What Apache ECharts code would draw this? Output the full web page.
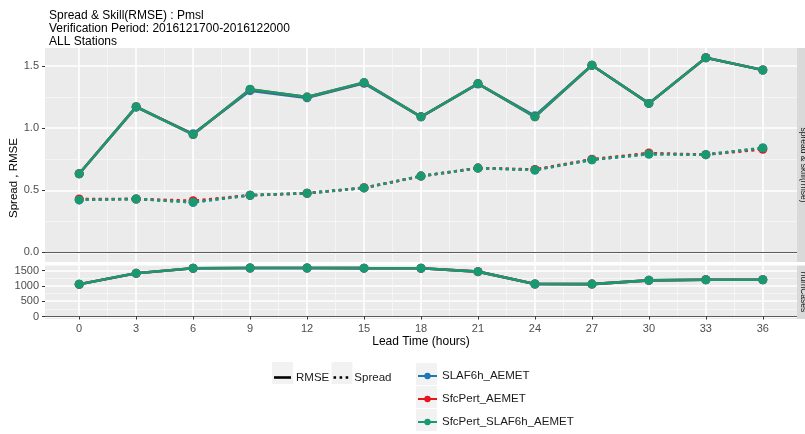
<!DOCTYPE html>
<html>
<head>
<meta charset="utf-8">
<script src="https://cdn.jsdelivr.net/npm/echarts@6/dist/echarts.min.js"></script>
<style>
html,body{margin:0;padding:0;background:#fff;}
#chart{width:805px;height:434px;}
</style>
</head>
<body>
<div id="chart"></div>
<script>
// ---- data ----
const leadTimes = [0, 3, 6, 9, 12, 15, 18, 21, 24, 27, 30, 33, 36];
const models = ['SLAF6h_AEMET', 'SfcPert_AEMET', 'SfcPert_SLAF6h_AEMET'];
const modelColors = ['#1f78b4', '#e8141c', '#179a72'];

const rmseSLAF6h       = [0.633, 1.170, 0.955, 1.303, 1.245, 1.362, 1.092, 1.357, 1.100, 1.508, 1.200, 1.568, 1.470];
const rmseSfcPert      = [0.633, 1.173, 0.950, 1.312, 1.251, 1.367, 1.092, 1.360, 1.092, 1.508, 1.200, 1.568, 1.470];
const rmseSfcPertSLAF  = [0.633, 1.173, 0.949, 1.314, 1.251, 1.368, 1.092, 1.360, 1.092, 1.508, 1.200, 1.568, 1.470];

const spreadSLAF6h      = [0.422, 0.430, 0.403, 0.460, 0.476, 0.519, 0.614, 0.679, 0.663, 0.746, 0.792, 0.787, 0.841];
const spreadSfcPert     = [0.430, 0.430, 0.415, 0.460, 0.476, 0.520, 0.614, 0.679, 0.668, 0.750, 0.800, 0.787, 0.830];
const spreadSfcPertSLAF = [0.422, 0.430, 0.403, 0.460, 0.476, 0.519, 0.614, 0.679, 0.663, 0.746, 0.792, 0.787, 0.841];

const numCases = [1055, 1410, 1575, 1585, 1585, 1578, 1575, 1465, 1060, 1058, 1180, 1200, 1200];

const yTicksTop = [0, 0.5, 1.0, 1.5];
const yTicksBottom = [0, 500, 1000, 1500];
const titleLines = ['Spread & Skill(RMSE) : Pmsl', 'Verification Period: 2016121700-2016122000', 'ALL Stations'];
const yTitle = 'Spread , RMSE';
const xTitle = 'Lead Time (hours)';
const stripLabels = ['spread & skill(rmse)', 'numCases'];

// ---- build ----
const rmseByModel = [rmseSLAF6h, rmseSfcPert, rmseSfcPertSLAF];
const spreadByModel = [spreadSLAF6h, spreadSfcPert, spreadSfcPertSLAF];
const pairs = (ys) => leadTimes.map((x, i) => [x, ys[i]]);
const minorOf = (t) => t.slice(0, -1).map((v, i) => (v + t[i + 1]) / 2);
const xMinor = minorOf(leadTimes);
const yMinorTop = minorOf(yTicksTop);
const yMinorBottom = minorOf(yTicksBottom);

const FONT = 'Liberation Sans';
const X_MIN = -1.8, X_MAX = 37.8;
const TOP_MIN = -0.0784, TOP_MAX = 1.647;
const BOT_MIN = -80, BOT_MAX = 1665;

const majorLine = { show: true, lineStyle: { color: '#ffffff', width: 1.6 } };
const minorLine = { show: true, lineStyle: { color: '#f7f7f7', width: 0.8 } };

function xAxisMajor(grid, withLabels) {
  return {
    type: 'value', gridIndex: grid, min: X_MIN, max: X_MAX, position: 'bottom',
    axisLine: { show: true, onZero: true, lineStyle: { color: '#5a5a5a', width: 1 } },
    axisTick: { show: withLabels, customValues: leadTimes, length: 3, lineStyle: { color: '#333' } },
    axisLabel: { show: withLabels, customValues: leadTimes, color: '#4d4d4d', fontSize: 11, fontFamily: FONT, margin: 4 },
    splitLine: majorLine,
    name: withLabels ? xTitle : '',
    nameLocation: 'middle', nameGap: 17,
    nameTextStyle: { color: '#000', fontSize: 12, fontFamily: FONT }
  };
}
function xAxisMinor(grid) {
  return {
    type: 'value', gridIndex: grid, min: X_MIN, max: X_MAX, position: 'top',
    axisLine: { show: false, onZero: false }, axisTick: { show: false, customValues: xMinor },
    axisLabel: { show: false, customValues: xMinor }, splitLine: minorLine
  };
}
function yAxisMajor(grid, min, max, ticks, fmt) {
  return {
    type: 'value', gridIndex: grid, min: min, max: max, position: 'left',
    axisLine: { show: false, onZero: false },
    axisTick: { show: true, customValues: ticks, length: 3, lineStyle: { color: '#333' } },
    axisLabel: { show: true, customValues: ticks, color: '#4d4d4d', fontSize: 11, fontFamily: FONT, margin: 6, formatter: fmt },
    splitLine: majorLine
  };
}
function yAxisMinor(grid, min, max, ticks) {
  return {
    type: 'value', gridIndex: grid, min: min, max: max, position: 'right',
    axisLine: { show: false, onZero: false }, axisTick: { show: false, customValues: ticks },
    axisLabel: { show: false, customValues: ticks }, splitLine: minorLine
  };
}

const series = [];
// legend-only series for line types
series.push({ name: 'RMSE', type: 'line', xAxisIndex: 0, yAxisIndex: 0, data: [], symbol: 'none',
  itemStyle: { color: '#000' }, lineStyle: { color: '#000', width: 2.4, type: 'solid' } });
series.push({ name: 'Spread', type: 'line', xAxisIndex: 0, yAxisIndex: 0, data: [], symbol: 'none',
  itemStyle: { color: '#000' }, lineStyle: { color: '#000', width: 2.6, type: [3, 3.5] } });

models.forEach((m, k) => {
  const c = modelColors[k];
  series.push({ name: m, type: 'line', xAxisIndex: 0, yAxisIndex: 0, data: pairs(rmseByModel[k]),
    symbol: 'circle', symbolSize: 9, itemStyle: { color: c }, lineStyle: { color: c, width: 2.6 }, z: 3 + k });
  series.push({ name: m, type: 'line', xAxisIndex: 0, yAxisIndex: 0, data: pairs(spreadByModel[k]),
    symbol: 'circle', symbolSize: 9, itemStyle: { color: c }, lineStyle: { color: c, width: 2.6, type: [3, 3.5] }, z: 3 + k });
  series.push({ name: m, type: 'line', xAxisIndex: 1, yAxisIndex: 1, data: pairs(numCases),
    symbol: 'circle', symbolSize: 9, itemStyle: { color: c }, lineStyle: { color: c, width: 2.6 }, z: 3 + k });
});

const legendText = { color: '#1a1a1a', fontSize: 11.5, fontFamily: FONT };
const legendBase = { selectedMode: false, padding: 0, itemGap: 0, textStyle: legendText };

const chart = echarts.init(document.getElementById('chart'), null, { renderer: 'canvas' });
chart.setOption({
  animation: false,
  backgroundColor: '#ffffff',
  title: {
    text: titleLines.join('\n'), left: 44, top: 4,
    textStyle: { color: '#000', fontSize: 12, fontWeight: 'normal', fontFamily: FONT, lineHeight: 13 }
  },
  grid: [
    { left: 45, top: 48, width: 752, height: 214, show: true, backgroundColor: '#ebebeb', borderWidth: 0, containLabel: false, outerBoundsMode: 'none' },
    { left: 45, top: 265.5, width: 752, height: 53.5, show: true, backgroundColor: '#ebebeb', borderWidth: 0, containLabel: false, outerBoundsMode: 'none' }
  ],
  xAxis: [xAxisMajor(0, false), xAxisMajor(1, true), xAxisMinor(0), xAxisMinor(1)],
  yAxis: [
    yAxisMajor(0, TOP_MIN, TOP_MAX, yTicksTop, v => v.toFixed(1)),
    yAxisMajor(1, BOT_MIN, BOT_MAX, yTicksBottom, v => String(v)),
    yAxisMinor(0, TOP_MIN, TOP_MAX, yMinorTop),
    yAxisMinor(1, BOT_MIN, BOT_MAX, yMinorBottom)
  ],
  legend: [
    Object.assign({}, legendBase, { data: ['RMSE'], left: 274, top: 371.5, itemWidth: 17, itemHeight: 2.6,
      icon: 'path://M0,0h17v2.6h-17z', itemStyle: { color: '#000' } }),
    Object.assign({}, legendBase, { data: ['Spread'], left: 333.5, top: 371.5, itemWidth: 17, itemHeight: 2.6,
      icon: 'path://M0,0h3v3h-3zM7,0h3v3h-3zM14,0h3v3h-3z', itemStyle: { color: '#000' } }),
    Object.assign({}, legendBase, { data: [models[0]], left: 417, top: 370, itemWidth: 19, itemHeight: 8 }),
    Object.assign({}, legendBase, { data: [models[1]], left: 417, top: 393, itemWidth: 19, itemHeight: 8 }),
    Object.assign({}, legendBase, { data: [models[2]], left: 417, top: 416, itemWidth: 19, itemHeight: 8 })
  ],
  graphic: [
    { type: 'rect', shape: { x: 797, y: 48, width: 10, height: 214 }, style: { fill: '#d9d9d9' }, z: 1 },
    { type: 'rect', shape: { x: 797, y: 265.5, width: 10, height: 53.5 }, style: { fill: '#d9d9d9' }, z: 1 },
    { type: 'text', x: 803, y: 165, rotation: -Math.PI / 2, z: 2,
      style: { text: stripLabels[0], fill: '#1a1a1a', fontSize: 8.5, fontFamily: FONT, align: 'center', verticalAlign: 'middle' } },
    { type: 'text', x: 803, y: 292, rotation: -Math.PI / 2, z: 2,
      style: { text: stripLabels[1], fill: '#1a1a1a', fontSize: 8.5, fontFamily: FONT, align: 'center', verticalAlign: 'middle' } },
    { type: 'text', x: 14, y: 178, rotation: Math.PI / 2, z: 2,
      style: { text: yTitle, fill: '#000', fontSize: 11.5, fontFamily: FONT, align: 'center', verticalAlign: 'middle' } },
    { type: 'rect', shape: { x: 272, y: 362, width: 21, height: 22 }, style: { fill: '#f2f2f2' }, z: 0 },
    { type: 'rect', shape: { x: 331.5, y: 362, width: 21, height: 22 }, style: { fill: '#f2f2f2' }, z: 0 },
    { type: 'rect', shape: { x: 416, y: 363, width: 21, height: 22 }, style: { fill: '#f2f2f2' }, z: 0 },
    { type: 'rect', shape: { x: 416, y: 386, width: 21, height: 22 }, style: { fill: '#f2f2f2' }, z: 0 },
    { type: 'rect', shape: { x: 416, y: 409, width: 21, height: 22 }, style: { fill: '#f2f2f2' }, z: 0 }
  ],
  series: series
});
</script>
</body>
</html>
